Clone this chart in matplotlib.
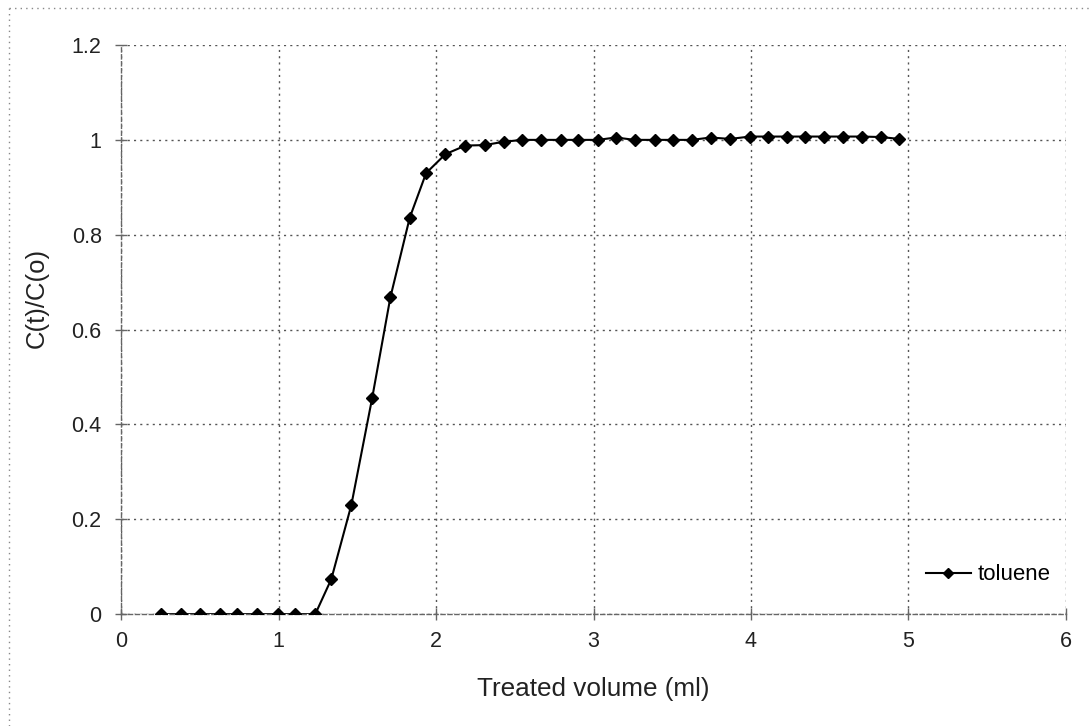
import matplotlib
matplotlib.use("Agg")
import matplotlib.pyplot as plt
from matplotlib.lines import Line2D

# treated volume (ml) and normalised concentration
volume = [0.254, 0.381, 0.498, 0.629, 0.736, 0.866, 0.996, 1.102, 1.233,
          1.335, 1.462, 1.594, 1.710, 1.833, 1.937, 2.060, 2.187, 2.308,
          2.430, 2.547, 2.668, 2.791, 2.903, 3.028, 3.141, 3.263, 3.388,
          3.507, 3.624, 3.744, 3.867, 3.994, 4.109, 4.228, 4.344, 4.465,
          4.586, 4.702, 4.825, 4.942]
toluene = [0, 0, 0, 0, 0, 0, 0, 0, 0,
           0.074, 0.230, 0.455, 0.668, 0.836, 0.930, 0.970, 0.988, 0.989,
           0.996, 1.000, 1.000, 1.000, 1.000, 1.000, 1.005, 1.000, 1.000,
           1.000, 1.000, 1.005, 1.002, 1.007, 1.007, 1.007, 1.007, 1.007,
           1.007, 1.007, 1.006, 1.002]

x_ticks = [0, 1, 2, 3, 4, 5, 6]
y_ticks = [0, 0.2, 0.4, 0.6, 0.8, 1.0, 1.2]
y_tick_labels = ["0", "0.2", "0.4", "0.6", "0.8", "1", "1.2"]

plt.rcParams['font.family'] = ['Liberation Sans', 'DejaVu Sans']

fig = plt.figure(figsize=(10.91, 7.26), dpi=100)
ax = fig.add_axes([0.111, 0.154, 0.866, 0.784])

grid_style = dict(color='#555555', linewidth=1.0, linestyle=(0, (1.5, 3)))

ax.plot(volume, toluene, color='black', linewidth=1.5, marker='D',
        markersize=6.5, label='toluene', zorder=3)

ax.set_xlim(0, 6)
ax.set_ylim(0, 1.2)
ax.set_xticks(x_ticks)
ax.set_yticks(y_ticks)
ax.set_yticklabels(y_tick_labels)
ax.grid(True, **grid_style)

for side in ['top', 'right']:
    ax.spines[side].set_visible(False)
for side in ['left', 'bottom']:
    ax.spines[side].set_color('#666666')
    ax.spines[side].set_linestyle((0, (3, 2)))
    ax.spines[side].set_linewidth(1.0)

ax.tick_params(axis='both', direction='inout', length=8, width=1,
               color='#666666', labelsize=15.5, labelcolor='#222222')
ax.tick_params(axis='y', pad=10)
ax.tick_params(axis='x', pad=8)

ax.set_xlabel('Treated volume (ml)', fontsize=18.8, color='#222222')
ax.set_ylabel('C(t)/C(o)', fontsize=18.5, color='#222222')
ax.xaxis.set_label_coords(0.5, -0.111)
ax.yaxis.set_label_coords(-0.077, 0.555)

leg = ax.legend(loc='center left', bbox_to_anchor=(0.852, 0.069), frameon=False,
                fontsize=16, handlelength=2.0, handletextpad=0.3,
                borderpad=0, borderaxespad=0, markerscale=0.8)

# dotted outer chart border (left and top edges visible in the scan)
fig.add_artist(Line2D([0.008, 0.008], [0.0, 0.989], transform=fig.transFigure,
                      color='#888888', linewidth=1, linestyle=(0, (1, 3))))
fig.add_artist(Line2D([0.008, 1.0], [0.989, 0.989], transform=fig.transFigure,
                      color='#888888', linewidth=1, linestyle=(0, (1, 3))))

fig.savefig('out.png', dpi=100, facecolor='white')
